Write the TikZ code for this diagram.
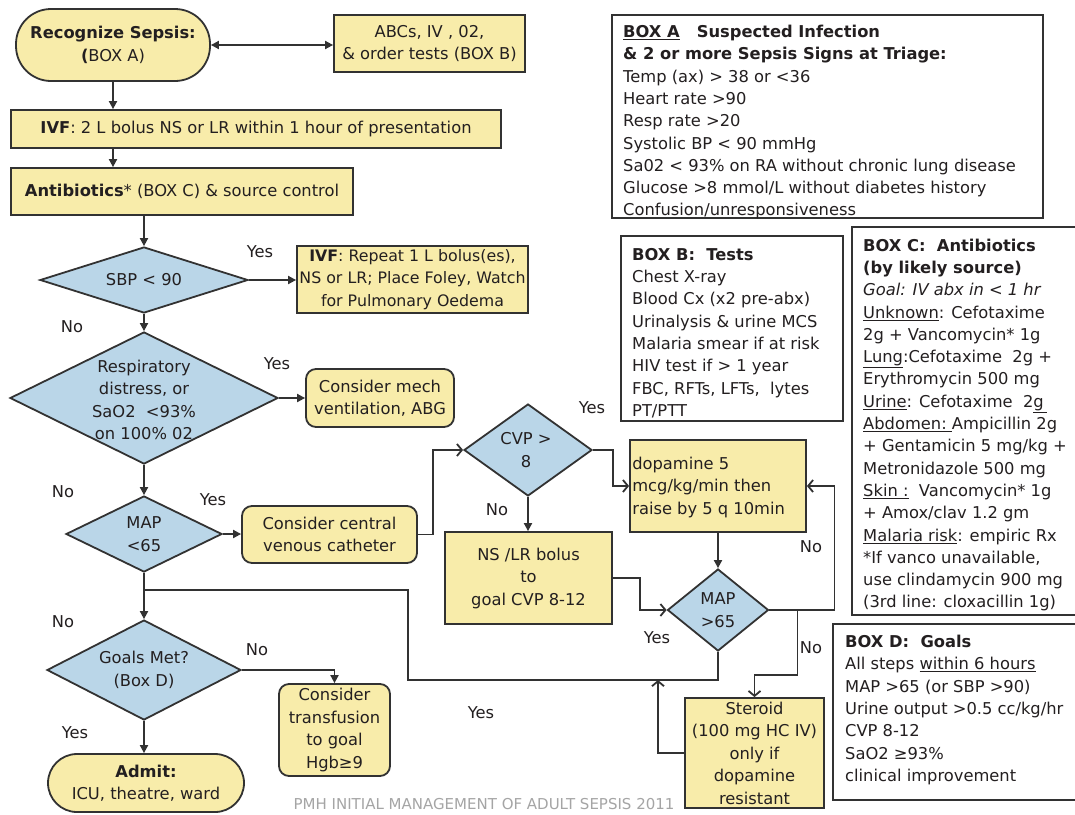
\documentclass[tikz,border=0pt]{standalone}
\usepackage{fontspec}
\setmainfont{DejaVu Sans}
\usetikzlibrary{shapes.geometric,arrows.meta}
\definecolor{ylw}{RGB}{248,236,170}
\definecolor{blu}{RGB}{186,214,232}
\definecolor{ink}{RGB}{35,31,32}
\definecolor{edgec}{RGB}{50,50,50}
\definecolor{footc}{RGB}{165,165,165}
\newcommand{\fsz}{\fontsize{16.3}{22.5}\selectfont}
\newcommand{\fsr}{\fontsize{16.3}{22.3}\selectfont}
\tikzset{
  txt/.style={font=\fsz, text=ink, inner sep=0pt, align=center},
  lbl/.style={font=\fsz, text=ink, inner sep=0pt},
  ybox/.style={txt, draw=edgec, line width=1.8pt, fill=ylw, rectangle},
  rbox/.style={ybox, rounded corners=10pt},
  term/.style={ybox, rounded corners=#1},
  dia/.style={draw=edgec, line width=1.8pt, fill=blu, diamond, inner sep=0pt},
  wbox/.style={draw=edgec, line width=1.8pt, fill=white, rectangle, inner sep=0pt},
  rtxt/.style={font=\fsr, text=ink, inner sep=0pt, align=left, anchor=north west},
  conn/.style={draw=edgec, line width=1.8pt},
  arr/.style={conn, -{Triangle[length=8pt,width=8pt]}},
  darr/.style={conn, {Triangle[length=8pt,width=8pt]}-{Triangle[length=8pt,width=8pt]}},
  barb/.style={conn, -{Straight Barb[length=5pt,width=12pt]}},
}
\begin{document}
\begin{tikzpicture}[x=1pt,y=-1pt]
\useasboundingbox (0,0) rectangle (1075,814);
\fill[white] (0,0) rectangle (1075,814);

% ---------- main flow ----------
\node[term=35pt, minimum width=194pt, minimum height=72pt] (recog) at (113,45) {\textbf{Recognize Sepsis:}\\\textbf{(}BOX A)};
\node[ybox, minimum width=191pt, minimum height=57pt] (abcs) at (429.5,43.5) {ABCs, IV , 02,\\\& order tests (BOX B)};
\node[ybox, minimum width=490pt, minimum height=38pt] (ivf) at (256,129) {\textbf{IVF}: 2 L bolus NS or LR within 1 hour of presentation};
\node[ybox, minimum width=342pt, minimum height=47pt] (abx) at (182,191.5) {\textbf{Antibiotics}* (BOX C) \& source control};

\node[dia, minimum width=208pt, minimum height=66pt] (sbp) at (144,280) {};
\node[txt] (sbpt) at (sbp) {SBP < 90};
\node[ybox, minimum width=231pt, minimum height=67pt, font=\fontsize{15.8}{22.5}\selectfont] (ivf2) at (412.5,279.5) {\textbf{IVF}: Repeat 1 L bolus(es),\\NS or LR; Place Foley, Watch\\for Pulmonary Oedema};

\node[dia, minimum width=268pt, minimum height=132pt] (resp) at (144,398) {};
\node[txt] (respt) at (144,400) {Respiratory\\distress, or\\SaO2\ \ <93\%\\on 100\% 02};
\node[rbox, minimum width=148pt, minimum height=58pt] (mech) at (380,398) {Consider mech\\ventilation, ABG};

\node[dia, minimum width=156pt, minimum height=76pt] (map1) at (144,534) {};
\node[txt] (map1t) at (map1) {MAP\\<65};
\node[rbox, minimum width=175pt, minimum height=57pt] (central) at (329.5,534.5) {Consider central\\venous catheter};

\node[dia, minimum width=128pt, minimum height=92pt] (cvp) at (528,450) {};
\node[txt] (cvpt) at (526,450) {CVP >\\8};
\node[ybox, minimum width=176pt, minimum height=92pt] (dopa) at (718,486) {};
\node[txt, align=left, anchor=west] (dopat) at ([xshift=3pt,yshift=-1pt]dopa.west) {dopamine 5\\mcg/kg/min then\\raise by 5 q 10min};
\node[ybox, minimum width=167pt, minimum height=92pt] (ns) at (528.5,578) {NS /LR bolus\\to\\goal CVP 8-12};
\node[dia, minimum width=101pt, minimum height=82pt] (map2) at (718,610) {};
\node[txt] (map2t) at (map2) {MAP\\>65};
\node[ybox, minimum width=139pt, minimum height=110pt] (steroid) at (754.5,753) {Steroid\\(100 mg HC IV)\\only if\\dopamine\\resistant};

\node[dia, minimum width=194pt, minimum height=100pt] (goals) at (144,670) {};
\node[txt] (goalst) at (goals) {Goals Met?\\(Box D)};
\node[rbox, minimum width=111pt, minimum height=92pt] (transf) at (334.5,730) {Consider\\transfusion\\to goal\\Hgb≥9};
\node[term=29pt, minimum width=196pt, minimum height=58pt] (admit) at (146,783) {\textbf{Admit:}\\ICU, theatre, ward};

% ---------- labels ----------
\node[lbl] (yes1) at (260,252) {Yes};
\node[lbl] (no1) at (72,327) {No};
\node[lbl] (yes2) at (277,364) {Yes};
\node[lbl] (no2) at (63,492) {No};
\node[lbl] (yes3) at (213,500) {Yes};
\node[lbl] (yes4) at (592,408) {Yes};
\node[lbl] (no3) at (497,510) {No};
\node[lbl] (no4) at (811,547) {No};
\node[lbl] (no5) at (811,648) {No};
\node[lbl] (yes5) at (657,638) {Yes};
\node[lbl] (yes6) at (481,713) {Yes};
\node[lbl] (no6) at (63,622) {No};
\node[lbl] (no7) at (257,650) {No};
\node[lbl] (yes7) at (75,733) {Yes};

% ---------- connectors ----------
\draw[darr] (recog.east) -- (recog.east -| abcs.west);
\draw[arr] (recog.south) -- (recog.south |- ivf.north);
\draw[arr] (ivf.south -| recog.south) -- (recog.south |- abx.north);
\draw[arr] (abx.south -| sbp.north) -- (sbp.north);
\draw[arr] (sbp.east) -- (sbp.east -| ivf2.west);
\draw[arr] (sbp.south) -- (resp.north);
\draw[arr] (resp.east) -- (resp.east -| mech.west);
\draw[arr] (resp.south) -- (map1.north);
\draw[arr] (map1.east) -- (map1.east -| central.west);
\draw[barb] (central.east) -- ++(15,0) |- (cvp.west);
\draw[barb] (cvp.east) -- ++(20,0) |- (dopa.west);
\draw[arr] (cvp.south) -- (cvp.south |- ns.north);
\draw[barb] (ns.east) -- ++(27,0) |- (map2.west);
\draw[arr] (dopa.south -| map2.north) -- (map2.north);
\draw[barb] (map2.east) -- ++(65,0) |- (dopa.east);
\draw[barb] (map2.east) ++(28,0) -- ++(0,65) -| (steroid.north);
\coordinate (jn) at (658,680);
\coordinate (lc) at (408,590);
\draw[conn] (map2.south) -- (map2.south |- jn) -- (lc |- jn) -- (lc) -- (lc -| goals.north);
\draw[barb] (steroid.west) -| (jn);
\draw[arr] (map1.south) -- (goals.north);
\draw[arr] (goals.east) -| (transf.north);
\draw[arr] (goals.south) -- (goals.south |- admit.north);

% ---------- side boxes ----------
\node[wbox, minimum width=431pt, minimum height=203pt] (boxa) at (827.5,116.5) {};
\node[rtxt] (boxat) at (623,25) {\underline{\textbf{BOX A}}\textbf{\ \ \ Suspected Infection}\\
\textbf{\& 2 or more Sepsis Signs at Triage:}\\
Temp (ax) > 38 or <36\\
Heart rate >90\\
Resp rate >20\\
Systolic BP < 90 mmHg\\
Sa02 < 93\% on RA without chronic lung disease\\
Glucose >8 mmol/L without diabetes history\\
Confusion/unresponsiveness};

\node[wbox, minimum width=222pt, minimum height=185pt] (boxb) at (732,328.5) {};
\node[rtxt] (boxbt) at (632,248) {\textbf{BOX B:\ \ Tests}\\
Chest X-ray\\
Blood Cx (x2 pre-abx)\\
Urinalysis \& urine MCS\\
Malaria smear if at risk\\
HIV test if > 1 year\\
FBC, RFTs, LFTs,\ \ lytes\\
PT/PTT};

\node[wbox, minimum width=228pt, minimum height=388pt] (boxc) at (966,421) {};
\node[rtxt] (boxct) at (863,238.6) {\textbf{BOX C:\ \ Antibiotics}\\
\textbf{(by likely source)}\\
\textit{Goal: IV abx in < 1 hr}\\
\underline{Unknown}: Cefotaxime\\
2g + Vancomycin* 1g\\
\underline{Lung}:Cefotaxime\ \ 2g +\\
Erythromycin 500 mg\\
\underline{Urine}: Cefotaxime\ \ 2\underline{g\,}\\
\underline{Abdomen:\ }Ampicillin 2g\\
+ Gentamicin 5 mg/kg +\\
Metronidazole 500 mg\\
\underline{Skin\ :}\ \ Vancomycin* 1g\\
+ Amox/clav 1.2 gm\\
\underline{Malaria risk}: empiric Rx\\
*If vanco unavailable,\\
use clindamycin 900 mg\\
(3rd line: cloxacillin 1g)};

\node[wbox, minimum width=247pt, minimum height=176pt] (boxd) at (956.5,712) {};
\node[rtxt] (boxdt) at (845,635) {\textbf{BOX D:\ \ Goals}\\
All steps \underline{within 6 hours}\\
MAP >65 (or SBP >90)\\
Urine output >0.5 cc/kg/hr\\
CVP 8-12\\
SaO2 ≥93\%\\
clinical improvement};

\node[font=\fontsize{15}{18}\selectfont, text=footc, inner sep=0pt] (foot) at (484,804) {PMH INITIAL MANAGEMENT OF ADULT SEPSIS 2011};
\end{tikzpicture}
\end{document}
